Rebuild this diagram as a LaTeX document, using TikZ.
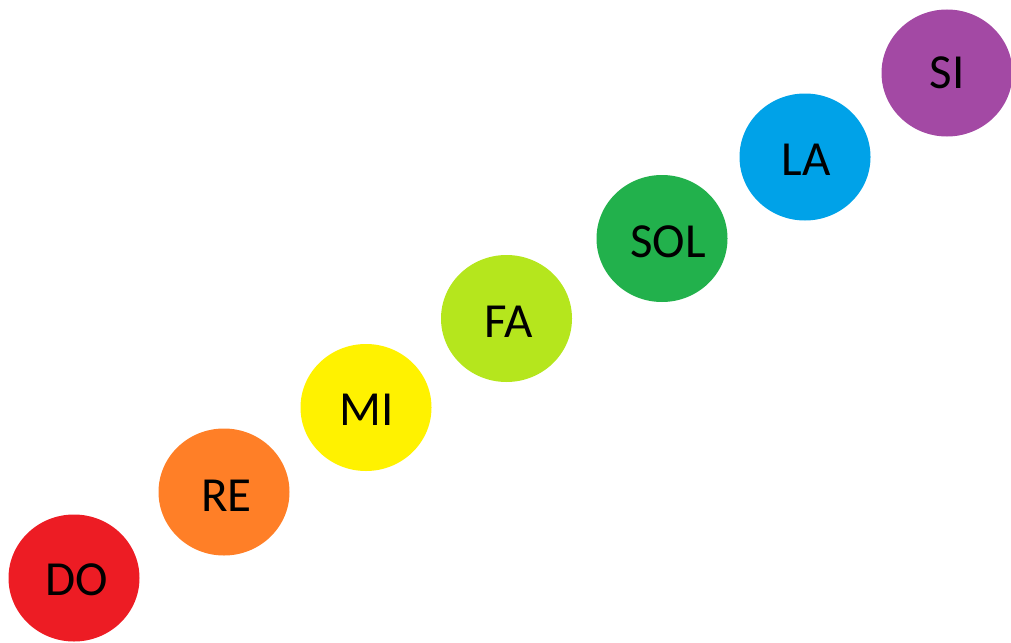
\documentclass[tikz,border=0pt]{standalone}
\usepackage{fontspec}
\setmainfont{Carlito}
\definecolor{cdo}{HTML}{ED1C24}
\definecolor{cre}{HTML}{FF7F27}
\definecolor{cmi}{HTML}{FFF200}
\definecolor{cfa}{HTML}{B5E61D}
\definecolor{csol}{HTML}{22B14C}
\definecolor{cla}{HTML}{00A2E8}
\definecolor{csi}{HTML}{A349A4}
\begin{document}
\begin{tikzpicture}[x=1pt,y=-1pt,
  note/.style={fill=#1,draw=none},
  lbl/.style={font=\fontsize{49}{52}\selectfont,text=black,inner sep=0pt,anchor=base}]
\useasboundingbox (0,0) rectangle (1011,642);
\foreach \n/\c/\x/\y/\tx/\ty/\t in {do/cdo/74/578/76.5/595/DO, re/cre/224/492/226.5/511/RE, mi/cmi/366/407.5/367/425/MI, fa/cfa/506.5/318.5/509/337/FA, sol/csol/662/238.5/668/257/SOL, la/cla/805/157/806/175/LA, si/csi/947/73/947/88/SI}{
  \fill[note=\c] (\x,\y) ellipse [x radius=65.5, y radius=63.5];
  \node[lbl] (\n) at (\tx,\ty) {\t};
}
\end{tikzpicture}
\end{document}
